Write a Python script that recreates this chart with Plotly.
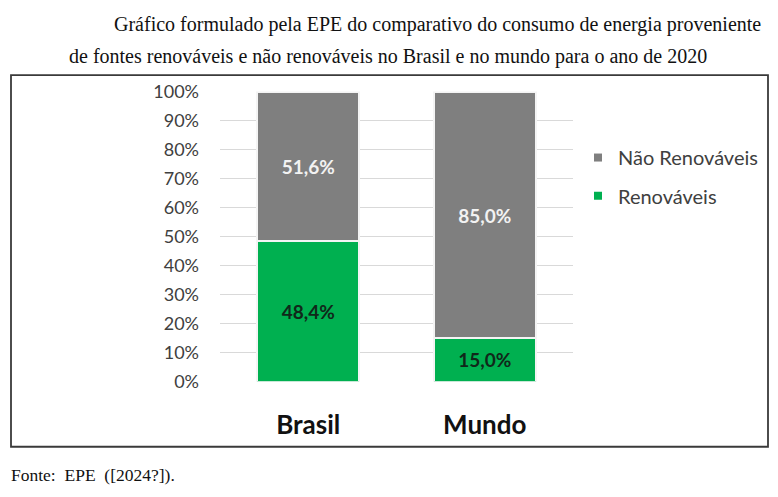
import plotly.graph_objects as go

categories = ["Brasil", "Mundo"]
renovaveis = [48.4, 15.0]
nao_renovaveis = [51.6, 85.0]
series_names = ["Renováveis", "Não Renováveis"]
series_colors = ["#00b050", "#7f7f7f"]
tick_values = [0, 10, 20, 30, 40, 50, 60, 70, 80, 90, 100]
tick_labels = [f"{v}%" for v in tick_values]

W, H = 778, 497
def px(x):
    return x / W
def py(y):
    return 1 - y / H

def fmt(v):
    return f"{v:.1f}%".replace(".", ",")

CHART_FONT = "Lato, 'Open Sans', sans-serif"
SERIF = "'Liberation Serif', 'Times New Roman', serif"

fig = go.Figure()
fig.add_trace(go.Bar(
    x=categories, y=renovaveis, name=series_names[0], showlegend=False,
    marker=dict(color=series_colors[0], line=dict(color="#f4f4f4", width=2)),
    text=[fmt(v) for v in renovaveis], textposition="inside",
    insidetextanchor="middle",
    textfont=dict(family=CHART_FONT, size=19, color="#10281a", weight="bold"),
))
fig.add_trace(go.Bar(
    x=categories, y=nao_renovaveis, name=series_names[1], showlegend=False,
    marker=dict(color=series_colors[1], line=dict(color="#f4f4f4", width=2)),
    text=[fmt(v) for v in nao_renovaveis], textposition="inside",
    insidetextanchor="middle",
    textfont=dict(family=CHART_FONT, size=19, color="#f2f2f2", weight="bold"),
))
# legend entries (small square swatches)
fig.add_trace(go.Scatter(x=[None], y=[None], mode="markers", name=series_names[1],
                         marker=dict(symbol="square", size=8, color=series_colors[1]),
                         legend="legend"))
fig.add_trace(go.Scatter(x=[None], y=[None], mode="markers", name=series_names[0],
                         marker=dict(symbol="square", size=8, color=series_colors[0]),
                         legend="legend2"))

legend_common = dict(xanchor="left", yanchor="middle", bgcolor="rgba(0,0,0,0)",
                     font=dict(family=CHART_FONT, size=20, color="#404040"))

fig.update_layout(
    width=W, height=H,
    margin=dict(l=0, r=0, t=0, b=0),
    paper_bgcolor="white", plot_bgcolor="white",
    barmode="stack", bargap=0.42,
    showlegend=True,
    legend=dict(x=px(578), y=py(153), **legend_common),
    legend2=dict(x=px(578), y=py(193), **legend_common),
    xaxis=dict(domain=[px(220), px(573)], showgrid=False, showline=False,
               ticks="", tickfont=dict(family=CHART_FONT, size=26, color="#111111", weight="bold"),
               ticklabelstandoff=25),
    yaxis=dict(domain=[py(387), py(84)], range=[0, 100.15],
               tickvals=tick_values, ticktext=tick_labels,
               showgrid=True, gridcolor="#d9d9d9", gridwidth=1,
               zeroline=False, showline=False, ticks="",
               tickfont=dict(family=CHART_FONT, size=18, color="#404040"),
               ticklabelstandoff=20),
    font=dict(family=CHART_FONT),
    shapes=[dict(type="rect", xref="paper", yref="paper",
                 x0=px(11), x1=px(768), y0=py(455), y1=py(67),
                 line=dict(color="#3a3a3a", width=1.8), layer="below")],
    annotations=[
        dict(text="Gráfico formulado pela EPE do comparativo do consumo de energia proveniente",
             xref="paper", yref="paper", x=px(112), y=py(14), xanchor="left", yanchor="middle",
             showarrow=False, font=dict(family=SERIF, size=20, color="#111111")),
        dict(text="de fontes renováveis e não renováveis no Brasil e no mundo para o ano de 2020",
             xref="paper", yref="paper", x=px(67), y=py(47), xanchor="left", yanchor="middle",
             showarrow=False, font=dict(family=SERIF, size=20, color="#111111")),
        dict(text="Fonte:  EPE  ([2024?]).",
             xref="paper", yref="paper", x=px(9), y=py(484), xanchor="left", yanchor="middle",
             showarrow=False, font=dict(family=SERIF, size=17.5, color="#111111")),
    ],
)

fig.write_html("out.html")
